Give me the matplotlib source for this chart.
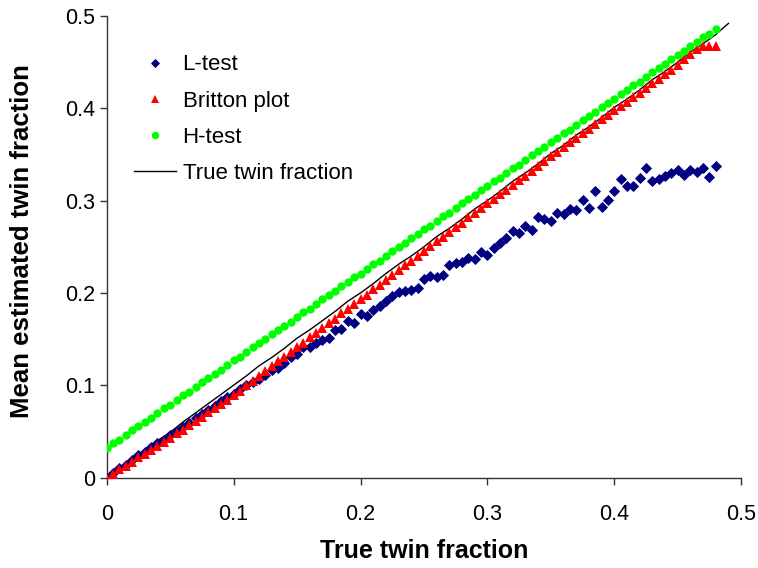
import matplotlib
matplotlib.use("Agg")
import matplotlib.pyplot as plt
from matplotlib.ticker import FuncFormatter

plt.rcParams['font.family'] = ['Liberation Sans', 'DejaVu Sans']

# nominal twin fraction, 0 .. 0.48 in steps of 0.005
true_frac = [round(0.005 * i, 3) for i in range(97)]

l_test = [
    0.000, 0.005, 0.010, 0.014, 0.019, 0.024, 0.028, 0.033, 0.037, 0.041,
    0.046, 0.050, 0.055, 0.059, 0.064, 0.069, 0.073, 0.078, 0.083, 0.087,
    0.091, 0.096, 0.100, 0.104, 0.107, 0.111, 0.116, 0.119, 0.124, 0.131,
    0.134, 0.141, 0.141, 0.146, 0.149, 0.151, 0.160, 0.161, 0.170, 0.167,
    0.177, 0.175, 0.182, 0.186, 0.191, 0.197, 0.201, 0.202, 0.203, 0.205,
    0.215, 0.218, 0.217, 0.219, 0.230, 0.232, 0.234, 0.238, 0.237, 0.244,
    0.241, 0.249, 0.254, 0.260, 0.267, 0.265, 0.272, 0.268, 0.282, 0.280,
    0.278, 0.287, 0.286, 0.291, 0.290, 0.301, 0.292, 0.310, 0.293, 0.301,
    0.310, 0.323, 0.316, 0.316, 0.325, 0.335, 0.321, 0.323, 0.327, 0.330,
    0.333, 0.328, 0.333, 0.331, 0.335, 0.326, 0.337,
]

britton = [
    0.000, 0.004, 0.009, 0.013, 0.017, 0.022, 0.026, 0.030, 0.034, 0.039,
    0.043, 0.048, 0.052, 0.057, 0.061, 0.066, 0.071, 0.075, 0.080, 0.084,
    0.089, 0.094, 0.100, 0.105, 0.110, 0.115, 0.121, 0.126, 0.131, 0.136,
    0.141, 0.146, 0.152, 0.157, 0.162, 0.167, 0.172, 0.178, 0.183, 0.188,
    0.193, 0.198, 0.204, 0.209, 0.214, 0.219, 0.225, 0.230, 0.235, 0.240,
    0.245, 0.251, 0.256, 0.261, 0.266, 0.271, 0.276, 0.282, 0.287, 0.292,
    0.297, 0.302, 0.307, 0.312, 0.317, 0.322, 0.327, 0.332, 0.338, 0.343,
    0.348, 0.353, 0.358, 0.363, 0.368, 0.373, 0.378, 0.383, 0.388, 0.393,
    0.398, 0.402, 0.407, 0.412, 0.417, 0.422, 0.427, 0.432, 0.437, 0.442,
    0.447, 0.453, 0.459, 0.464, 0.467, 0.468, 0.468,
]

h_test = [
    0.032, 0.037, 0.041, 0.046, 0.051, 0.056, 0.060, 0.065, 0.070, 0.075,
    0.079, 0.084, 0.089, 0.093, 0.098, 0.103, 0.108, 0.112, 0.117, 0.122,
    0.127, 0.131, 0.136, 0.141, 0.146, 0.150, 0.155, 0.160, 0.164, 0.169,
    0.174, 0.179, 0.183, 0.188, 0.193, 0.198, 0.202, 0.207, 0.212, 0.217,
    0.221, 0.226, 0.231, 0.235, 0.240, 0.245, 0.250, 0.254, 0.259, 0.264,
    0.269, 0.273, 0.278, 0.283, 0.287, 0.292, 0.297, 0.302, 0.306, 0.311,
    0.316, 0.321, 0.325, 0.330, 0.335, 0.339, 0.344, 0.349, 0.354, 0.358,
    0.363, 0.368, 0.373, 0.377, 0.382, 0.387, 0.392, 0.396, 0.401, 0.406,
    0.410, 0.415, 0.420, 0.425, 0.429, 0.434, 0.439, 0.444, 0.448, 0.453,
    0.458, 0.462, 0.467, 0.472, 0.477, 0.481, 0.486,
]

# true twin fraction of the simulated data
line_x = [round(0.01 * i, 2) for i in range(50)]
line_y = [
    0.000, 0.010, 0.020, 0.030, 0.040, 0.049, 0.060, 0.070, 0.080, 0.090,
    0.100, 0.110, 0.121, 0.130, 0.140, 0.151, 0.160, 0.170, 0.180, 0.191,
    0.200, 0.210, 0.221, 0.231, 0.240, 0.250, 0.261, 0.270, 0.280, 0.291,
    0.300, 0.310, 0.321, 0.330, 0.340, 0.351, 0.360, 0.371, 0.380, 0.390,
    0.401, 0.410, 0.420, 0.431, 0.440, 0.450, 0.461, 0.470, 0.480, 0.492,
]

ticks = [0, 0.1, 0.2, 0.3, 0.4, 0.5]

fig = plt.figure(figsize=(7.58, 5.68), dpi=100)
ax = fig.add_axes([0.1408, 0.1593, 0.837, 0.8125])

ax.plot(true_frac, l_test, linestyle='none', marker='D', markersize=4.9,
        color='#000080', markeredgewidth=0.6, label='L-test', zorder=3)
ax.plot(true_frac, britton, linestyle='none', marker='^', markersize=7.0,
        color='#ff0000', markeredgewidth=0, label='Britton plot', zorder=4)
ax.plot(true_frac, h_test, linestyle='none', marker='o', markersize=6.0,
        color='#00ff00', markeredgewidth=0, label='H-test', zorder=4)
ax.plot(line_x, line_y, color='black', linewidth=1.0,
        label='True twin fraction', zorder=2)

ax.set_xlim(0, 0.5)
ax.set_ylim(0, 0.5)
ax.set_xticks(ticks)
ax.set_yticks(ticks)
fmt = FuncFormatter(lambda v, p: '%g' % v)
ax.xaxis.set_major_formatter(fmt)
ax.yaxis.set_major_formatter(fmt)

for side in ['top', 'right']:
    ax.spines[side].set_visible(False)
for side in ['left', 'bottom']:
    ax.spines[side].set_linewidth(1.0)
    ax.spines[side].set_color('#333333')

ax.tick_params(axis='x', direction='out', length=5, width=1.0, pad=14,
               labelsize=15.5, color='#333333')
ax.tick_params(axis='y', direction='out', length=5, width=1.0, pad=3,
               labelsize=15.5, color='#333333')

ax.set_xlabel('True twin fraction', fontsize=18, fontweight='bold', labelpad=10)
ax.set_ylabel('Mean estimated twin fraction', fontsize=18.5, fontweight='bold')
ax.yaxis.set_label_coords(-0.115, 0.512)

ax.legend(loc='upper left', bbox_to_anchor=(0.011, 0.96), frameon=False,
          fontsize=16, handlelength=1.9, handletextpad=0.3, labelspacing=0.68,
          markerscale=0.9)

fig.savefig('out.png', dpi=100)
